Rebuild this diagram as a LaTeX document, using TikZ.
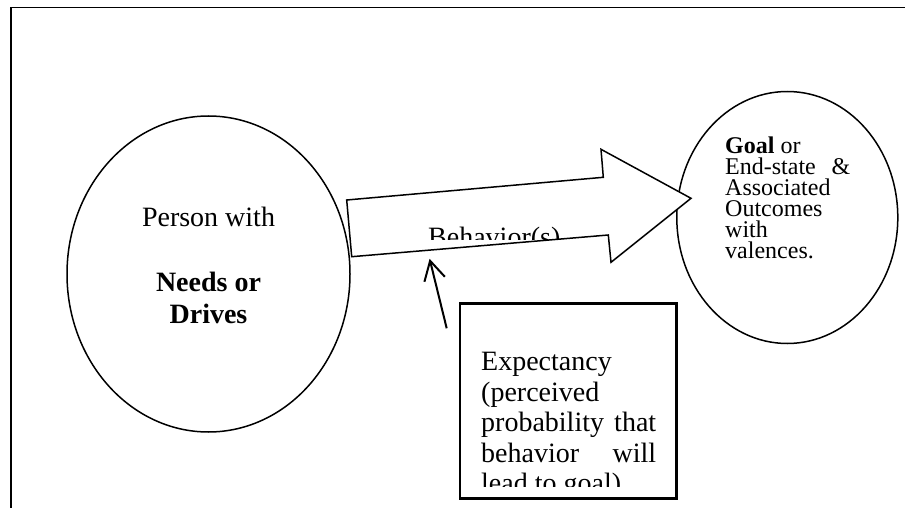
\documentclass[tikz,border=0pt]{standalone}
\usepackage{fontspec}
\setmainfont{Liberation Serif}
\usetikzlibrary{shapes.geometric,arrows.meta}
\tikzset{
  line/.style={line width=1.5pt},
  oval/.style={ellipse,draw,line width=1.5pt,inner sep=0pt},
  bigtxt/.style={anchor=base west,inner sep=0pt,font=\fontsize{28}{31}\selectfont},
  bigctr/.style={anchor=base,inner sep=0pt,font=\fontsize{28}{31}\selectfont},
  goaltxt/.style={anchor=base west,inner sep=0pt,text height=14pt,text depth=0pt,font=\fontsize{24}{21}\selectfont},
}
\begin{document}
\begin{tikzpicture}[x=1pt,y=-1pt]
\useasboundingbox (0,0) rectangle (905,508);
% outer frame (open at right and bottom)
\draw[line width=1.8pt] (11,520) -- (11,7.5) -- (920,7.5);
% ellipses
\node[oval,minimum width=283pt,minimum height=316pt] (person) at (208.5,274) {};
\node[oval,minimum width=221pt,minimum height=252pt] (goal) at (787.3,217.5) {};
% person text
\node[bigctr] (p1) at (208.5,226) {Person with};
\node[bigctr,font=\fontsize{28}{31}\selectfont\bfseries] (p2) at (208.5,291.7) {Needs or};
\node[bigctr,font=\fontsize{28}{31}\selectfont\bfseries] (p3) at (208.5,323.3) {Drives};
% goal text
\node[goaltxt] (g1) at (725,153.3) {\textbf{Goal} or};
\node[goaltxt] (g2) at (725,174.3) {\makebox[125pt][s]{End-state\hfill\&}};
\node[goaltxt] (g3) at (725,195.3) {Associated};
\node[goaltxt] (g4) at (725,216.7) {Outcomes};
\node[goaltxt] (g5) at (725,237.7) {with};
\node[goaltxt] (g6) at (725,258.3) {valences.};
% block arrow
\coordinate (a1) at (346.7,200);
\coordinate (a2) at (603.3,177.3);
\coordinate (a3) at (601,149.3);
\coordinate (a4) at (691,198.3);
\coordinate (a5) at (611,262.3);
\coordinate (a6) at (608.3,235);
\coordinate (a7) at (351.7,256.7);
\draw[line,fill=white,line join=miter] (a1) -- (a2) -- (a3) -- (a4) -- (a5) -- (a6) -- (a7) -- cycle;
\begin{scope}
  \clip (340,150) rectangle (620,239.5);
  \node[bigtxt] (beh) at (428,246.8) {Behavior(s)};
\end{scope}
% small arrow
\coordinate (tail) at (446.7,328.3);
\coordinate (tip) at (429.6,258.8);
\draw[line width=2pt,-{Straight Barb[length=19pt,width=21pt,line width=2pt]}] (tail) -- (tip);
% expectancy box
\begin{scope}
  \clip (460,303.3) rectangle (676.7,486.5);
  \node[bigtxt] (e1) at (481,370.7) {Expectancy};
  \node[bigtxt] (e2) at (481,401.4) {(perceived};
  \node[bigtxt] (e3) at (481,431.9) {\makebox[175pt][s]{probability\hfill that}};
  \node[bigtxt] (e4) at (481,462.4) {\makebox[175pt][s]{behavior\hfill will}};
  \node[bigtxt] (e5) at (481,492.9) {lead to goal)};
\end{scope}
\node[draw,line width=2.5pt,minimum width=216.7pt,minimum height=195pt,inner sep=0pt] (box) at (568.3,400.8) {};
\end{tikzpicture}
\end{document}
